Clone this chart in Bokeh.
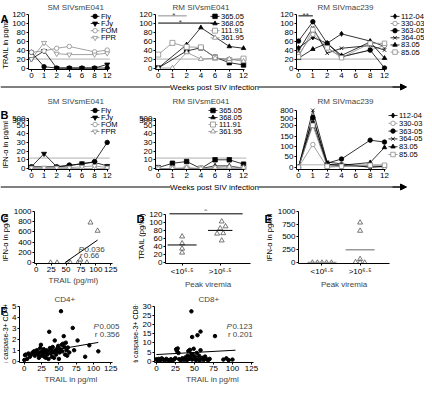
import numpy as np
from bokeh.plotting import figure
from bokeh.layouts import column, row
from bokeh.models import FixedTicker, Label, Range1d, Arrow, NormalHead
from bokeh.core.properties import value
from bokeh.embed import file_html
from bokeh.resources import INLINE

FONT = "Liberation Sans"
FS = "8px"

# ---------------- data ----------------
week_labels = ["0", "1", "2", "4", "6", "8", "12"]
week_pos = [0, 1, 2, 3, 4, 5, 6]

# A: TRAIL pg/ml
a1_names = ["Fly", "FJy", "FOM", "FPR"]
a1_fly = [35, 3, 0, 0, 0, 0, 0]
a1_fjy = [20, 38, 0, 0, 0, 0, 8]
a1_fom = [35, 38, 44, 48, None, 36, 40]
a1_fpr = [20, 56, 32, 30, None, 30, 33]

a2_names = ["365.05", "368.05", "111.91", "361.95"]
a2_365 = [0, None, 38, 45, 24, 12, 7]
a2_368 = [0, None, 52, 90, None, 48, 44]
a2_111 = [30, 56, 47, 46, 23, 18, 21]
a2_361 = [0, 0, 35, 20, 22, 20, 15]

a3_names = ["112-04", "330-03", "363-05", "364-05", "83.05", "85.05"]
a3_112 = [45, 68, 55, 76, None, 60, 48]
a3_330 = [30, 75, 45, 25, None, 40, 50]
a3_363 = [60, 103, 55, 25, None, 40, 0]
a3_364 = [38, 90, 33, 44, None, 50, 40]
a3_83 = [22, 42, 55, 28, None, 58, 22]
a3_85 = [25, 85, 45, 23, None, 55, 55]

# B: IFN-alpha pg/ml
b1_fly = [2, None, 2, 4, 5, 8, 30]
b1_fjy = [2, 17, 2, 3, 6, 7, 3]
b1_fom = [0, 0, 0, 0, 0, 0, 0]
b1_fpr = [1, 1, 1, 1, 2, 3, 1]

b2_365 = [1, 6, 8, 0, 10, 10, 5]
b2_368 = [0, 0, 0, 0, 3, 3, 0]
b2_111 = [0, 0, 0, 0, 0, 0, 0]
b2_361 = [0, 0, 1, 0, 1, 2, 1]

b3_112 = [0, 300, 12, 10, None, 2, 5]
b3_330 = [0, 110, 0, 5, None, 5, 0]
b3_363 = [0, 530, 20, 40, None, 131, 122]
b3_364 = [0, 800, 25, 17, None, 0, 5]
b3_83 = [0, 500, 15, 10, None, 23, 96]
b3_85 = [0, 220, 5, 5, None, 10, 10]

# C: IFN vs TRAIL
c_trail = [24, 35, 54, 57, 70, 73, 85, 74, 91, 103]
c_ifn = [0, 0, 0, 0, 0, 0, 0, 60, 780, 620]
c_fit_x = [48, 103]
c_fit_y = [0, 440]

# D: TRAIL by peak viremia
d_low = [25, 35, 48, 65]
d_high = [55, 72, 73, 85, 90, 102]
d_means = [44, 80]

# E: IFN by peak viremia
e_low = [0, 0, 0, 0, 0]
e_high = [780, 620, 70, 10, 5, 0]
e_means = [5, 250]

group_labels = ["<10\u2076\u00b7\u2075", ">10\u2076\u00b7\u2075"]

# F: caspase-3 vs TRAIL
f4_trail = [0, 1, 2, 4, 6, 8, 10, 12, 14, 15, 17, 18, 20, 21, 22, 23, 24, 25, 26, 27,
            28, 29, 30, 31, 32, 33, 34, 35, 36, 37, 38, 39, 40, 41, 42, 43, 44, 45, 46, 47,
            48, 49, 50, 51, 52, 53, 54, 55, 56, 57, 58, 59, 60, 61, 62, 63, 65, 70, 72, 77,
            88, 94, 107]
f4_casp = [0.1, 0.55, 0.6, 0.2, 0.7, 0.4, 0.6, 0.8, 0.9, 0.5, 0.75, 1.0, 0.6, 0.3, 0.8, 1.2,
           1.5, 0.5, 0.9, 0.7, 1.1, 0.4, 0.8, 0.3, 1.0, 0.6, 0.9, 0.2, 2.7, 1.2, 0.7, 1.0,
           0.4, 1.3, 0.8, 0.3, 1.9, 1.0, 0.6, 0.9, 1.2, 1.4, 0.2, 0.8, 1.1, 4.6, 1.5, 0.9,
           1.6, 2.3, 1.3, 0.6, 1.7, 1.0, 0.5, 1.25, 0.8, 3.06, 1.0, 1.9, 0.4, 1.45, 0.9]
f4_fit_x = [0, 107]
f4_fit_y = [0.56, 1.72]

f8_trail = [0, 1, 3, 5, 7, 9, 11, 13, 15, 17, 19, 21, 23, 25, 26, 27, 28, 29, 30, 32,
            34, 36, 38, 40, 41, 42, 43, 44, 45, 46, 46, 47, 47, 48, 49, 50, 51, 52, 53, 54,
            55, 56, 57, 58, 58, 60, 62, 64, 66, 68, 70, 77, 88, 92, 95, 100]
f8_casp = [1, 0.5, 1.2, 0.3, 1.5, 0.8, 0.4, 1.2, 0.6, 0.2, 1.0, 0.5, 0.8, 1.6, 6.5, 5.5,
           7, 4.5, 1.0, 0.3, 1.5, 0.7, 2.0, 0.4, 3.0, 5.5, 1.2, 6.2, 2.5, 27.5, 4.0, 13.3,
           0.8, 3.5, 6.8, 1.5, 2.2, 0.5, 4.5, 14.3, 1.0, 3.0, 0.3, 16.3, 6.0, 1.8, 0.6, 2.5,
           1.0, 0.4, 1.2, 13.8, 0.8, 1.5, 0.5, 0.8]
f8_fit_x = [0, 104]
f8_fit_y = [3.6, 6.0]


# ---------------- helpers ----------------
def style_axes(p):
    for ax in p.axis:
        ax.major_label_text_font = FONT
        ax.major_label_text_font_size = FS
        ax.axis_label_text_font = FONT
        ax.axis_label_text_font_size = FS
        ax.axis_label_text_font_style = "normal"
        ax.major_tick_in = 0
        ax.major_tick_out = 2
        ax.minor_tick_line_color = None
        ax.major_label_standoff = 1
        ax.axis_label_standoff = 1
        ax.axis_line_color = "black"
        ax.major_tick_line_color = "black"
        ax.major_label_text_color = "black"


class Geo:
    def __init__(self, w, h, left, right, top, bottom, xr, yr):
        self.fw = w - left - right
        self.fh = h - top - bottom
        self.xr = xr
        self.yr = yr

    def x(self, px):
        return self.xr[0] + px * (self.xr[1] - self.xr[0]) / self.fw

    def y(self, py):
        return self.yr[1] - py * (self.yr[1] - self.yr[0]) / self.fh


def mkfig(w, h, left, right, top, bottom, xr, yr, title=None, toff=0):
    p = figure(width=w, height=h, x_range=Range1d(*xr), y_range=Range1d(*yr),
               output_backend="svg", toolbar_location=None,
               min_border_left=left, min_border_right=right,
               min_border_top=top, min_border_bottom=bottom)
    p.outline_line_color = None
    p.xgrid.visible = False
    p.ygrid.visible = False
    if title:
        p.title.text = title
        p.title.text_font = FONT
        p.title.text_font_size = "8px"
        p.title.text_font_style = "normal"
        p.title.align = "left"
        p.title.offset = toff
        p.title.standoff = 1
    style_axes(p)
    return p, Geo(w, h, left, right, top, bottom, xr, yr)


def gutter(w, h, letter=None, letter_top=0, title=None, title_yc=0, title_fs="7.5px", letter_x=0):
    p = figure(width=w, height=h, x_range=Range1d(0, w), y_range=Range1d(0, h),
               output_backend="svg", toolbar_location=None, min_border=0,
               x_axis_location=None, y_axis_location=None)
    p.outline_line_color = None
    p.xgrid.visible = False
    p.ygrid.visible = False
    if letter:
        p.text(x=[letter_x], y=[h - letter_top], text=[letter], text_font=value(FONT),
               text_font_size="11px", text_font_style="bold", text_align="left", text_baseline="top")
    if title:
        p.text(x=[w / 2.0], y=[h - title_yc], text=[title], text_font=value(FONT),
               text_font_size=title_fs, angle=np.pi / 2, text_align="center", text_baseline="middle")
    return p


def time_fig(w, h, left, right, top, bottom, xr, yr, title, toff):
    p, g = mkfig(w, h, left, right, top, bottom, xr, yr, title, toff)
    p.xaxis.ticker = FixedTicker(ticks=week_pos)
    p.xaxis.major_label_overrides = {i: l for i, l in zip(week_pos, week_labels)}
    p.xaxis.bounds = (xr[0], 6.1)
    return p, g


def draw(p, vals, sty, tf=None):
    pts = [(x, v) for x, v in zip(week_pos, vals) if v is not None]
    X = [a for a, b in pts]
    Y = [tf(b) if tf else b for a, b in pts]
    marker, fill, color, size = sty
    p.line(X, Y, line_color=color, line_width=0.8)
    p.scatter(X, Y, marker=marker, size=size, fill_color=fill, line_color=color, line_width=0.8)


def legend(p, g, names, styles, lx, ly, dy):
    for i, (n, s) in enumerate(zip(names, styles)):
        marker, fill, color, size = s
        yc = g.y(ly + i * dy)
        p.line([g.x(lx), g.x(lx + 9)], [yc, yc], line_color=color, line_width=0.8)
        p.scatter([g.x(lx + 4.5)], [yc], marker=marker, size=size, fill_color=fill,
                  line_color=color, line_width=0.8)
        p.text(x=[g.x(lx + 10.5)], y=[yc], text=[n], text_font=value(FONT), text_font_size="7.5px",
               text_align="left", text_baseline="middle")


BLK = "black"
GRY = "#8c8c8c"
st_sm = [("circle", BLK, BLK, 4.5), ("inverted_triangle", BLK, BLK, 5),
         ("circle", "white", GRY, 4.5), ("inverted_triangle", "white", GRY, 5)]
st_rm1 = [("square", BLK, BLK, 4.5), ("triangle", BLK, BLK, 4.5),
          ("square", "white", GRY, 5), ("triangle", "white", GRY, 5)]
st_rm2 = [("diamond", BLK, BLK, 5), ("circle", "white", GRY, 4.5), ("circle", BLK, BLK, 4.5),
          ("x", BLK, BLK, 5), ("triangle", BLK, BLK, 4.5), ("square", "white", GRY, 4.5)]
THR = "#b0b0b0"
TRI = "#555555"

# ---------------- Row A ----------------
HA, TA, BA = 80, 10, 11
yrA = (-3.2, 123.5)
xr1 = (-0.23, 8.0)
xr2 = (-0.19, 8.39)
xr3 = (-0.14, 8.79)

gA = gutter(9, HA, "A", 0, "TRAIL in pg/ml", 44)
a1, ga1 = time_fig(123, HA, 16, 0, TA, BA, xr1, yrA, "SM SIVsmE041", 19)
a2, ga2 = time_fig(145, HA, 23, 0, TA, BA, xr2, yrA, "RM SIVsmE041", 17)
a3, ga3 = time_fig(147, HA, 19, 0, TA, BA, xr3, yrA, "RM SIVmac239", 21)
for p in (a1, a2, a3):
    p.yaxis.ticker = FixedTicker(ticks=[0, 20, 40, 60, 80, 100, 120])
    p.yaxis.bounds = (yrA[0], 120)
    p.line([p.x_range.start, 6.2], [20, 20], line_color=THR, line_width=1)

for v, s in zip([a1_fly, a1_fjy, a1_fom, a1_fpr], st_sm):
    draw(a1, v, s)
legend(a1, ga1, a1_names, st_sm, 64, 4, 7.4)
for v, s in zip([a2_365, a2_368, a2_111, a2_361], st_rm1):
    draw(a2, v, s)
legend(a2, ga2, a2_names, st_rm1, 55, 4, 7.4)
for v, s in zip([a3_112, a3_330, a3_363, a3_364, a3_83, a3_85], st_rm2):
    draw(a3, v, s)
legend(a3, ga3, a3_names, st_rm2, 94, 4, 7.4)

# significance bars
a2.line([0, 2], [116, 116], line_color=GRY, line_width=1)
a2.line([0, 4], [100, 100], line_color=BLK, line_width=1)
a2.add_layout(Label(x=1.1, y=117.5, text="*", text_font=FONT, text_font_size=FS,
                    text_align="center", text_baseline="middle"))
a2.add_layout(Label(x=1.55, y=102, text="*", text_font=FONT, text_font_size=FS,
                    text_align="center", text_baseline="middle"))
a3.line([0, 1], [116, 116], line_color=BLK, line_width=1)
a3.add_layout(Label(x=0.5, y=117.5, text="**", text_font=FONT, text_font_size=FS,
                    text_align="center", text_baseline="middle"))


# ---------------- separators ----------------
def sep_fig():
    p = figure(width=424, height=11, x_range=Range1d(0, 424), y_range=Range1d(0, 11),
               output_backend="svg", toolbar_location=None, min_border=0,
               x_axis_location=None, y_axis_location=None)
    p.outline_line_color = None
    p.xgrid.visible = False
    p.ygrid.visible = False
    p.segment(x0=[0, 258], y0=[5.5, 5.5], x1=[170, 400], y1=[5.5, 5.5], line_color=BLK, line_width=1)
    p.text(x=[214], y=[5.5], text=["Weeks post SIV infection"], text_font=value(FONT),
           text_font_size=FS, text_align="center", text_baseline="middle")
    p.add_layout(Arrow(end=NormalHead(size=6, fill_color=BLK, line_color=BLK),
                       x_start=392, y_start=5.5, x_end=406, y_end=5.5, line_color=BLK, line_width=1))
    return p


sepA = sep_fig()
sepB = sep_fig()

# ---------------- Row B ----------------
HB, TB, BB = 89, 15, 11


def tB(v):
    return float(np.interp(v, [0, 50, 300, 500], [0, 50, 55, 58]))


def tB3(v):
    return float(np.interp(v, [0, 200, 500, 800], [0, 200, 238, 275]))


yrB = (-1.15, 71.3)
yrB3 = (-10.6, 293.7)
gB = gutter(9, HB, "B", 3, "IFN-\u03b1 in pg/ml", 54)
b1, gb1 = time_fig(123, HB, 16, 0, TB, BB, xr1, yrB, "SM SIVsmE041", 19)
b2, gb2 = time_fig(145, HB, 23, 0, TB, BB, xr2, yrB, "RM SIVsmE041", 17)
b3, gb3 = time_fig(147, HB, 19, 0, TB, BB, xr3, yrB3, "RM SIVmac239", 21)
for p in (b1, b2):
    ticks = [0, 10, 20, 30, 40, 50, 300, 500]
    p.yaxis.ticker = FixedTicker(ticks=[tB(t) for t in ticks])
    p.yaxis.major_label_overrides = {int(tB(t)): str(t) for t in ticks}
    p.yaxis.bounds = (yrB[0], tB(500))
    p.line([p.x_range.start, 6.2], [12, 12], line_color=THR, line_width=1)
ticks3 = [0, 50, 100, 150, 200, 500, 800]
b3.yaxis.ticker = FixedTicker(ticks=[tB3(t) for t in ticks3])
b3.yaxis.major_label_overrides = {int(tB3(t)): str(t) for t in ticks3}
b3.yaxis.bounds = (yrB3[0], tB3(800))
b3.line([b3.x_range.start, 6.2], [tB3(12), tB3(12)], line_color=THR, line_width=1)

for v, s in zip([b1_fly, b1_fjy, b1_fom, b1_fpr], st_sm):
    draw(b1, v, s, tB)
legend(b1, gb1, a1_names, st_sm, 64, 4, 7.0)
for v, s in zip([b2_365, b2_368, b2_111, b2_361], st_rm1):
    draw(b2, v, s, tB)
legend(b2, gb2, a2_names, st_rm1, 53, 4, 7.0)
for v, s in zip([b3_112, b3_330, b3_363, b3_364, b3_83, b3_85], st_rm2):
    draw(b3, v, s, tB3)
legend(b3, gb3, a3_names, st_rm2, 92, 9, 7.8)

# ---------------- Row C D E ----------------
HC, BC = 100, 22
yrC = (-16, 1035)
gC = gutter(10, HC, "C", 5, "IFN-\u03b1 in pg/ml", 52)
c, gc = mkfig(126, HC, 21, 24, 18, BC, (-3, 128), yrC)
c.xaxis.ticker = FixedTicker(ticks=[0, 25, 50, 75, 100, 125])
c.yaxis.ticker = FixedTicker(ticks=[0, 200, 400, 600, 800, 1000])
c.yaxis.bounds = (yrC[0], 1000)
c.xaxis.axis_label = "TRAIL (pg/ml)"
c.scatter(c_trail, c_ifn, marker="triangle", size=5, fill_color="white", line_color=TRI, line_width=0.8)
c.line(c_fit_x, c_fit_y, line_color=BLK, line_width=1)
c.add_layout(Label(x=71, y=250, text="P", text_font=FONT, text_font_size=FS, text_font_style="italic", text_baseline="middle"))
c.add_layout(Label(x=71, y=250, x_offset=6, text="0.036", text_font=FONT, text_font_size=FS, text_baseline="middle"))
c.add_layout(Label(x=73, y=130, text="r", text_font=FONT, text_font_size=FS, text_font_style="italic", text_baseline="middle"))
c.add_layout(Label(x=73, y=130, x_offset=4, text="0.66", text_font=FONT, text_font_size=FS, text_baseline="middle"))

gD = gutter(10, HC, "D", 7, "TRAIL (pg/ml)", 50)
yrD = (-1.8, 131.7)
d, gd = mkfig(118, HC, 17, 14, 12, BC, (0.564, 2.795), yrD)
d.yaxis.ticker = FixedTicker(ticks=[0, 20, 40, 60, 80, 100, 120])
d.yaxis.bounds = (yrD[0], 120)
d.xaxis.axis_label = "Peak viremia"
jit_d_low = [0, 0, 0, 0]
jit_d_high = [0.04, -0.08, 0.08, 0.0, 0.14, 0.04]
d.scatter([1 + j for j in jit_d_low], d_low, marker="triangle", size=5, fill_color="white", line_color=TRI, line_width=0.8)
d.scatter([2 + j for j in jit_d_high], d_high, marker="triangle", size=5, fill_color="white", line_color=TRI, line_width=0.8)
d.segment(x0=[0.62, 1.68], y0=d_means, x1=[1.38, 2.32], y1=d_means, line_color=BLK, line_width=1)
d.line([0.67, 2.59], [121, 121], line_color=BLK, line_width=1)
d.add_layout(Label(x=1.62, y=127, text="*", text_font=FONT, text_font_size="10px",
                   text_align="center", text_baseline="middle"))

gE = gutter(10, HC, "E", 7, "IFN-\u03b1 in pg/ml", 52)
yrE = (-16, 1035)
e, ge = mkfig(150, HC, 22, 35, 18, BC, (0.385, 2.77), yrE)
e.yaxis.ticker = FixedTicker(ticks=[0, 250, 500, 750, 1000])
e.yaxis.bounds = (yrE[0], 1000)
e.xaxis.axis_label = "Peak viremia"
jit_e_low = [-0.25, -0.12, 0.0, 0.12, 0.25]
jit_e_high = [0, 0, 0, -0.12, 0.0, 0.12]
e.scatter([1 + j for j in jit_e_low], e_low, marker="triangle", size=5, fill_color="white", line_color=TRI, line_width=0.8)
e.scatter([2 + j for j in jit_e_high], e_high, marker="triangle", size=5, fill_color="white", line_color=TRI, line_width=0.8)
e.segment(x0=[0.62, 1.62], y0=e_means, x1=[1.38, 2.38], y1=e_means, line_color="#9a9a9a", line_width=1.5)

for p in (d, e):
    p.xaxis.ticker = FixedTicker(ticks=[1, 2])
    p.xaxis.major_label_overrides = {1: group_labels[0], 2: group_labels[1]}

# ---------------- Row F ----------------
HF, TF, BF = 95, 13, 21
yrF1 = (-0.13, 5.22)
gF = gutter(9, HF, "F", 1.5, "% caspase-3+ CD4+", 51, "7px")
f1, gf1 = mkfig(121, HF, 9, 8, TF, BF, (-7, 142), yrF1, "CD4+", 35)
f1.xaxis.ticker = FixedTicker(ticks=[0, 25, 50, 75, 100, 125])
f1.xaxis.bounds = (-7, 128)
f1.yaxis.ticker = FixedTicker(ticks=[0, 1, 2, 3, 4, 5])
f1.yaxis.bounds = (yrF1[0], 5)
f1.xaxis.axis_label = "TRAIL in pg/ml"
f1.scatter(f4_trail, f4_casp, marker="circle", size=3.5, fill_color=BLK, line_color=BLK)
f1.line(f4_fit_x, f4_fit_y, line_color=BLK, line_width=1)
f1.add_layout(Label(x=100, y=3.2, text="P", text_font=FONT, text_font_size=FS, text_font_style="italic", text_baseline="middle"))
f1.add_layout(Label(x=100, y=3.2, x_offset=6, text="0.005", text_font=FONT, text_font_size=FS, text_baseline="middle"))
f1.add_layout(Label(x=102, y=2.45, text="r 0.356", text_font=FONT, text_font_size=FS, text_baseline="middle"))

gF2 = gutter(9, HF, None, 0, "% caspase-3+ CD8+", 48, "7px")
yrF2 = (-0.8, 31.3)
f2, gf2 = mkfig(135, HF, 12, 4, TF, BF, (-2.5, 150), yrF2, "CD8+", 44)
f2.xaxis.ticker = FixedTicker(ticks=[0, 25, 50, 75, 100, 125])
f2.xaxis.bounds = (-2.5, 128)
f2.yaxis.ticker = FixedTicker(ticks=[0, 5, 10, 15, 20, 25, 30])
f2.yaxis.bounds = (yrF2[0], 30)
f2.xaxis.axis_label = "TRAIL in pg/ml"
f2.scatter(f8_trail, f8_casp, marker="circle", size=3.5, fill_color=BLK, line_color=BLK)
f2.line(f8_fit_x, f8_fit_y, line_color=BLK, line_width=1)
f2.add_layout(Label(x=92, y=19, text="P", text_font=FONT, text_font_size=FS, text_font_style="italic", text_baseline="middle"))
f2.add_layout(Label(x=92, y=19, x_offset=6, text="0.123", text_font=FONT, text_font_size=FS, text_baseline="middle"))
f2.add_layout(Label(x=94, y=14.7, text="r 0.201", text_font=FONT, text_font_size=FS, text_baseline="middle"))

layout = column(row(gA, a1, a2, a3), sepA, row(gB, b1, b2, b3), sepB,
                row(gC, c, gD, d, gE, e), row(gF, f1, gF2, f2))
open("out.html", "w").write(file_html(layout, INLINE))
